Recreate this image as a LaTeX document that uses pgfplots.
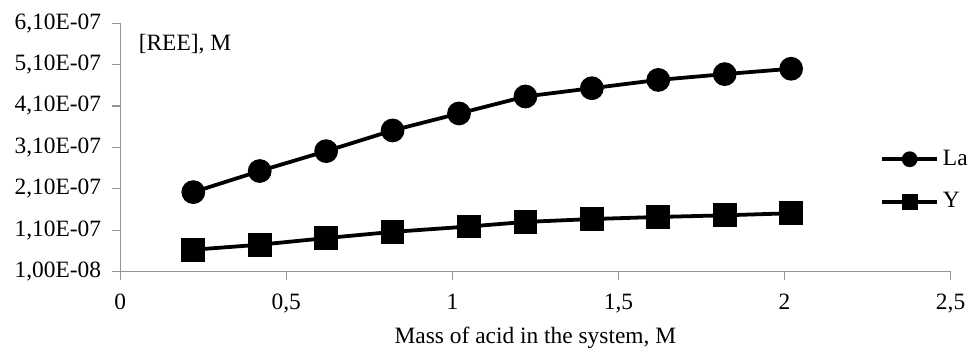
\documentclass[border=0pt]{standalone}
\usepackage{pgfplots}
\pgfplotsset{compat=1.18}
\usepackage{fontspec}
\setmainfont{Liberation Serif}
\begin{document}
\fontsize{11.75}{14}\selectfont
\begin{tikzpicture}
\begin{axis}[
  scale only axis,
  width=416.8pt, height=124.7pt,
  xmin=0, xmax=2.5, ymin=1e-8, ymax=6.1e-7,
  axis lines=left,
  axis line style={draw=black!42, line width=0.6pt, -},
  tick style={draw=black!42, line width=0.6pt},
  tick align=outside,
  major tick length=4pt,
  xtick={0,0.5,1,1.5,2,2.5},
  xticklabels={0,{0,5},1,{1,5},2,{2,5}},
  ytick={1e-8,1.1e-7,2.1e-7,3.1e-7,4.1e-7,5.1e-7,6.1e-7},
  yticklabels={{1,00E-08},{1,10E-07},{2,10E-07},{3,10E-07},{4,10E-07},{5,10E-07},{6,10E-07}},
  scaled y ticks=false,
  scaled x ticks=false,
  xticklabel style={font=\fontsize{11.75}{14}\selectfont, yshift=-3pt},
  yticklabel style={font=\fontsize{11.75}{14}\selectfont, xshift=-1.5pt},
  xlabel={Mass of acid in the system, M},
  xlabel style={font=\fontsize{11.75}{14}\selectfont, yshift=1pt},
  clip=false,
  legend style={draw=none, fill=none, at={(rel axis cs:0.915,0.508)}, anchor=north west,
    font=\fontsize{11.75}{14}\selectfont, row sep=8pt, inner sep=0pt},
  legend cell align=left,
  legend image code/.code={\draw[#1, mark size=3pt, mark repeat=2, mark phase=2] plot coordinates {(0pt,0pt) (13.75pt,0pt) (27.5pt,0pt)};},
]
\addplot[black, line width=1.9pt, mark=*, mark size=5pt] coordinates {
 (0.22,2.02e-7) (0.42,2.53e-7) (0.62,3.01e-7) (0.82,3.51e-7) (1.02,3.92e-7)
 (1.22,4.33e-7) (1.42,4.53e-7) (1.62,4.73e-7) (1.82,4.87e-7) (2.02,5.00e-7)};
\addlegendentry{La}
\addplot[black, line width=1.9pt, mark=square*, mark size=5pt] coordinates {
 (0.22,6.29e-8) (0.42,7.5e-8) (0.62,9.1e-8) (0.82,1.06e-7) (1.05,1.19e-7)
 (1.22,1.30e-7) (1.42,1.37e-7) (1.62,1.42e-7) (1.82,1.46e-7) (2.02,1.51e-7)};
\addlegendentry{Y}
\node[anchor=west, font=\fontsize{11.75}{14}\selectfont] at (rel axis cs:0.0125,0.917) {[REE], M};
\path[draw=none] ([shift={(-60.35pt,-35.65pt)}]rel axis cs:0,0) rectangle ([shift={(9.35pt,11.65pt)}]rel axis cs:1,1);
\end{axis}
\end{tikzpicture}
\end{document}
